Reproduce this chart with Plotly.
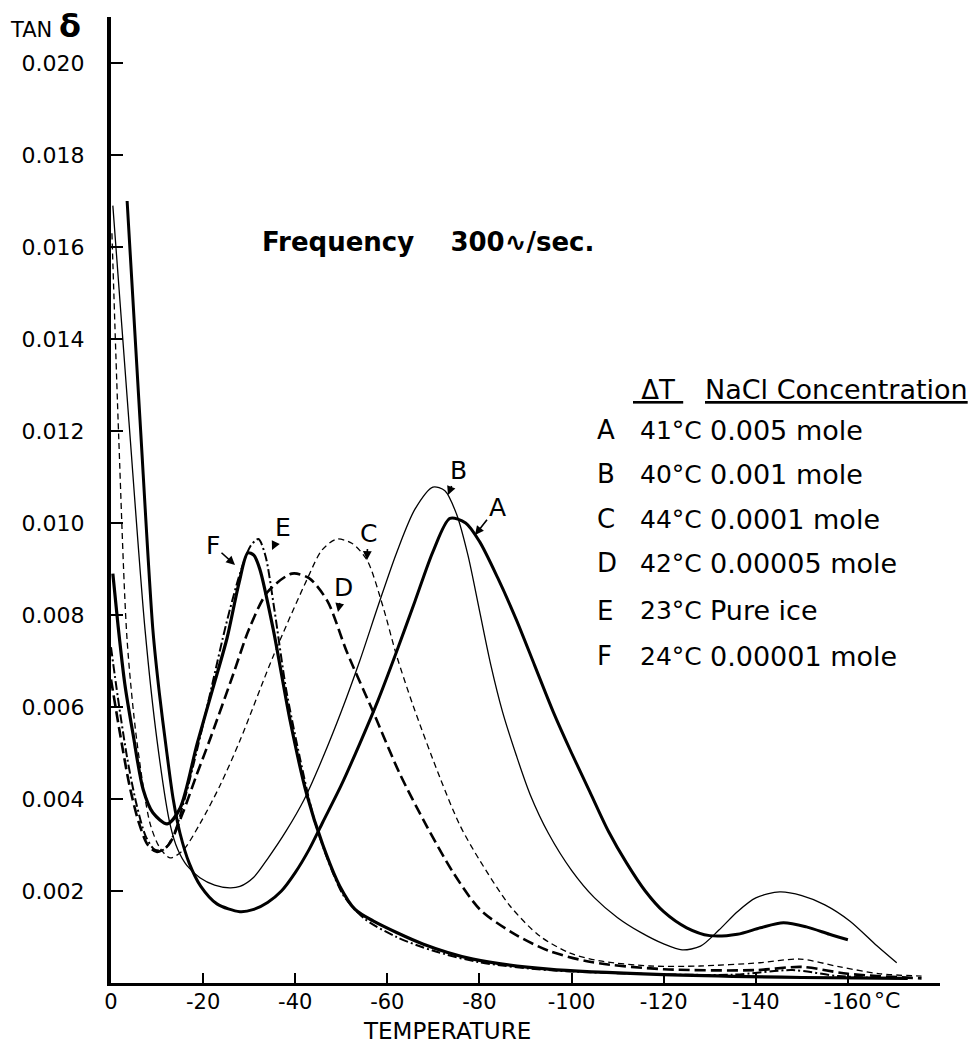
import plotly.graph_objects as go

# ---------------- data ----------------
A_T = [-3.5, -6.3, -9.1, -10.5, -12, -13.5, -15, -17, -19.5, -23, -28, -31, -34, -37, -40, -43, -46, -50, -54, -58, -62, -66, -70, -73.6, -77, -80, -84, -88, -92, -96, -100, -104, -108, -112, -116, -120, -125, -130, -136, -141, -146, -151, -156, -160]
A_Y = [0.0170, 0.01224, 0.00767, 0.0063, 0.0051, 0.0040, 0.00325, 0.0026, 0.0021, 0.00172, 0.00155, 0.0016, 0.00175, 0.0020, 0.0024, 0.0029, 0.0035, 0.0043, 0.0052, 0.00615, 0.0072, 0.0083, 0.0094, 0.0101, 0.0100, 0.0096, 0.0088, 0.0079, 0.0069, 0.0059, 0.0050, 0.00415, 0.0033, 0.0026, 0.0020, 0.00155, 0.0012, 0.00103, 0.00106, 0.0012, 0.00131, 0.00122, 0.00106, 0.00094]

B_T = [-0.4, -3.9, -7.4, -10, -12.8, -14.5, -16.5, -19.3, -22.5, -25.8, -28, -31, -34, -38, -42, -46, -50, -54, -58, -62, -66, -69.9, -72.5, -75, -77.5, -80, -82.5, -85, -88, -91, -95, -100, -105, -110, -115, -120, -124, -128, -132, -136, -140, -145.2, -150, -155, -160.4, -166.3, -170.6]
B_Y = [0.0169, 0.0122, 0.00767, 0.00527, 0.00346, 0.0029, 0.00255, 0.00229, 0.00213, 0.00207, 0.0021, 0.0023, 0.0027, 0.0033, 0.0040, 0.0049, 0.0059, 0.0070, 0.0082, 0.00935, 0.0103, 0.01078, 0.0107, 0.0102, 0.0093, 0.0081, 0.0069, 0.0059, 0.00495, 0.0041, 0.00325, 0.00245, 0.00185, 0.00142, 0.0011, 0.00085, 0.00072, 0.0008, 0.00115, 0.00155, 0.00185, 0.00198, 0.0019, 0.0017, 0.00135, 0.00081, 0.00044]

C_T = [-0.2, -1.7, -3.5, -5.6, -8.5, -10.6, -12.8, -15.6, -19.3, -23.7, -28, -35.2, -42.5, -45.8, -49, -52.3, -55.6, -59, -62, -65.6, -71.4, -75.8, -80.1, -86.6, -93.1, -99.7, -106.2, -117, -127.9, -140.9, -149.6, -158.3, -167, -176]
C_Y = [0.0163, 0.0118, 0.00745, 0.00527, 0.00346, 0.00294, 0.00272, 0.00288, 0.00346, 0.00430, 0.00527, 0.00710, 0.00876, 0.00941, 0.00965, 0.00956, 0.00919, 0.00820, 0.00712, 0.00603, 0.00447, 0.00342, 0.00266, 0.00168, 0.00102, 0.00065, 0.00048, 0.00037, 0.00037, 0.00044, 0.00052, 0.00035, 0.00020, 0.00015]

D_T = [0, -2, -4, -6, -8, -10, -12.5, -15.6, -18.5, -21.5, -26.5, -30, -34, -39.3, -43, -47, -51.2, -56.9, -62.7, -68.6, -74.3, -80.1, -87, -95, -104.6, -120, -140, -150, -160, -176]
D_Y = [0.0066, 0.0054, 0.0043, 0.0035, 0.0030, 0.00285, 0.0030, 0.0037, 0.0045, 0.0053, 0.0067, 0.0077, 0.0085, 0.0089, 0.0088, 0.0083, 0.0072, 0.0059, 0.00455, 0.0034, 0.0024, 0.0016, 0.0011, 0.0007, 0.00045, 0.0003, 0.00028, 0.00035, 0.0002, 0.0001]

E_T = [0, -1.5, -3.5, -5.5, -7.5, -9.5, -11.5, -13.5, -16, -19, -22, -25, -28, -30.3, -32, -33.5, -35.5, -38, -41, -44, -47, -50.5, -55, -62, -70, -80, -95, -115, -135, -148, -158, -172]
E_Y = [0.0073, 0.0062, 0.0049, 0.0039, 0.0032, 0.0029, 0.0029, 0.0032, 0.0040, 0.0052, 0.0065, 0.0078, 0.0089, 0.0095, 0.00965, 0.0093, 0.0081, 0.0064, 0.0049, 0.0036, 0.0027, 0.0019, 0.0014, 0.0010, 0.0007, 0.00045, 0.00028, 0.0002, 0.00018, 0.00028, 0.00015, 0.0001]

F_T = [-0.4, -1.5, -3, -4.8, -7, -9.1, -12.2, -15, -18.7, -22.1, -25.2, -27.8, -29.7, -31, -32.3, -35.2, -38.9, -42.5, -46, -49.7, -53, -56.9, -67.7, -78.6, -95, -120, -150, -173]
F_Y = [0.0089, 0.0078, 0.0065, 0.0054, 0.0042, 0.0037, 0.00346, 0.0038, 0.0052, 0.0064, 0.0075, 0.0087, 0.00935, 0.0093, 0.0090, 0.0077, 0.0057, 0.0041, 0.0030, 0.0021, 0.0016, 0.00135, 0.00085, 0.00052, 0.0003, 0.00018, 0.00012, 0.0001]

x_tick_vals = [0, -20, -40, -60, -80, -100, -120, -140, -160]
x_tick_text = ["0", "-20", "-40", "-60", "-80", "-100", "-120", "-140", "-160"]
y_tick_vals = [0.002, 0.004, 0.006, 0.008, 0.010, 0.012, 0.014, 0.016, 0.018, 0.020]
y_tick_text = ["0.002", "0.004", "0.006", "0.008", "0.010", "0.012", "0.014", "0.016", "0.018", "0.020"]

legend_letters = ["A", "B", "C", "D", "E", "F"]
legend_dT = ["41°C", "40°C", "44°C", "42°C", "23°C", "24°C"]
legend_conc = ["0.005 mole", "0.001 mole", "0.0001 mole", "0.00005 mole", "Pure ice", "0.00001 mole"]

# ---------------- layout helpers ----------------
W, H = 977, 1045
ML, MR, MT, MB = 111, 37, 17, 62
PW, PH = W - ML - MR, H - MT - MB
X0, X1 = 0, -180
Y0, Y1 = 0, 0.021


def px2x(px):
    return X0 + (px - ML) / PW * (X1 - X0)


def py2y(py):
    return Y0 + (H - MB - py) / PH * (Y1 - Y0)


def pxp(px):
    return (px - ML) / PW


def pyp(py):
    return (H - MB - py) / PH


FONT = "DejaVu Sans"
fig = go.Figure()

styles = {
    "A": dict(width=3.0, dash="solid"),
    "B": dict(width=1.3, dash="solid"),
    "C": dict(width=1.3, dash="6px,4px"),
    "D": dict(width=2.6, dash="11px,5px"),
    "E": dict(width=2.0, dash="9px,3px,2px,3px"),
    "F": dict(width=3.2, dash="solid"),
}
series = {"A": (A_T, A_Y), "B": (B_T, B_Y), "C": (C_T, C_Y),
          "D": (D_T, D_Y), "E": (E_T, E_Y), "F": (F_T, F_Y)}
for name, (tx, ty) in series.items():
    st = styles[name]
    fig.add_trace(go.Scatter(x=tx, y=ty, mode="lines", name=name,
                             line=dict(color="black", width=st["width"], dash=st["dash"],
                                       shape="spline", smoothing=0.8),
                             showlegend=False, hoverinfo="skip"))

annotations = []
# curve labels with arrows: (label, text px, tip px)
curve_labels = [("F", (213, 545), (235, 565)), ("E", (283, 527), (272, 550)),
                ("C", (368, 533), (367, 560)), ("D", (343, 587), (338, 612)),
                ("B", (458, 470), (448, 495)), ("A", (497, 507), (475, 535))]
for lab, (tx, ty), (ax_, ay_) in curve_labels:
    annotations.append(dict(x=px2x(ax_), y=py2y(ay_), xref="x", yref="y",
                            text=lab, showarrow=True, arrowhead=2, arrowsize=1.1,
                            arrowwidth=1.6, arrowcolor="black", standoff=0,
                            ax=tx - ax_, ay=ty - ay_,
                            font=dict(family=FONT, size=25, color="black")))

# frequency text
annotations.append(dict(x=pxp(260), y=pyp(242), xref="paper", yref="paper",
                        xanchor="left", yanchor="middle", showarrow=False,
                        text="<b>Frequency\u00a0\u00a0\u00a0\u00a0300\u223f/sec.</b>",
                        font=dict(family=FONT, size=26, color="black")))
# y axis title
annotations.append(dict(x=pxp(8), y=pyp(26), xref="paper", yref="paper",
                        xanchor="left", yanchor="middle", showarrow=False,
                        text="TAN\u00a0<b><span style='font-size:32px'>δ</span></b>",
                        font=dict(family=FONT, size=21, color="black")))
# x axis title
annotations.append(dict(x=pxp(447), y=pyp(1031), xref="paper", yref="paper",
                        xanchor="center", yanchor="middle", showarrow=False,
                        text="TEMPERATURE",
                        font=dict(family=FONT, size=23, color="black")))
# °C after -160
annotations.append(dict(x=pxp(872), y=pyp(1001), xref="paper", yref="paper",
                        xanchor="left", yanchor="middle", showarrow=False,
                        text="°C", font=dict(family=FONT, size=22, color="black")))

# legend table
annotations.append(dict(x=pxp(658), y=pyp(390), xref="paper", yref="paper",
                        xanchor="center", yanchor="middle", showarrow=False,
                        text="<u>\u00a0ΔT\u00a0</u>", font=dict(family=FONT, size=26, color="black")))
annotations.append(dict(x=pxp(703), y=pyp(390), xref="paper", yref="paper",
                        xanchor="left", yanchor="middle", showarrow=False,
                        text="<u>NaCl Concentration</u>", font=dict(family=FONT, size=27, color="black")))
row_y = [430, 474, 519, 563, 611, 656]
for i, (l, d, c) in enumerate(zip(legend_letters, legend_dT, legend_conc)):
    yy = pyp(row_y[i])
    annotations.append(dict(x=pxp(595), y=yy, xref="paper", yref="paper", xanchor="left",
                            yanchor="middle", showarrow=False, text=l,
                            font=dict(family=FONT, size=26, color="black")))
    annotations.append(dict(x=pxp(638), y=yy, xref="paper", yref="paper", xanchor="left",
                            yanchor="middle", showarrow=False, text=d,
                            font=dict(family=FONT, size=25, color="black")))
    annotations.append(dict(x=pxp(708), y=yy, xref="paper", yref="paper", xanchor="left",
                            yanchor="middle", showarrow=False, text=c,
                            font=dict(family=FONT, size=27, color="black")))

fig.update_layout(
    width=W, height=H,
    margin=dict(l=ML, r=MR, t=MT, b=MB, pad=0),
    paper_bgcolor="white", plot_bgcolor="white",
    annotations=annotations,
    xaxis=dict(range=[X0, X1], tickmode="array", tickvals=x_tick_vals, ticktext=x_tick_text,
               ticks="inside", ticklen=10, tickwidth=2, tickcolor="black",
               showline=True, linecolor="black", linewidth=3, showgrid=False, zeroline=False,
               ticklabelstandoff=-2,
               tickfont=dict(family=FONT, size=21, color="black")),
    yaxis=dict(range=[Y0, Y1], tickmode="array", tickvals=y_tick_vals, ticktext=y_tick_text,
               ticks="inside", ticklen=12, tickwidth=2, tickcolor="black",
               showline=True, linecolor="black", linewidth=4, showgrid=False, zeroline=False,
               ticklabelstandoff=18,
               tickfont=dict(family=FONT, size=22, color="black")),
)

fig.write_html("out.html")
